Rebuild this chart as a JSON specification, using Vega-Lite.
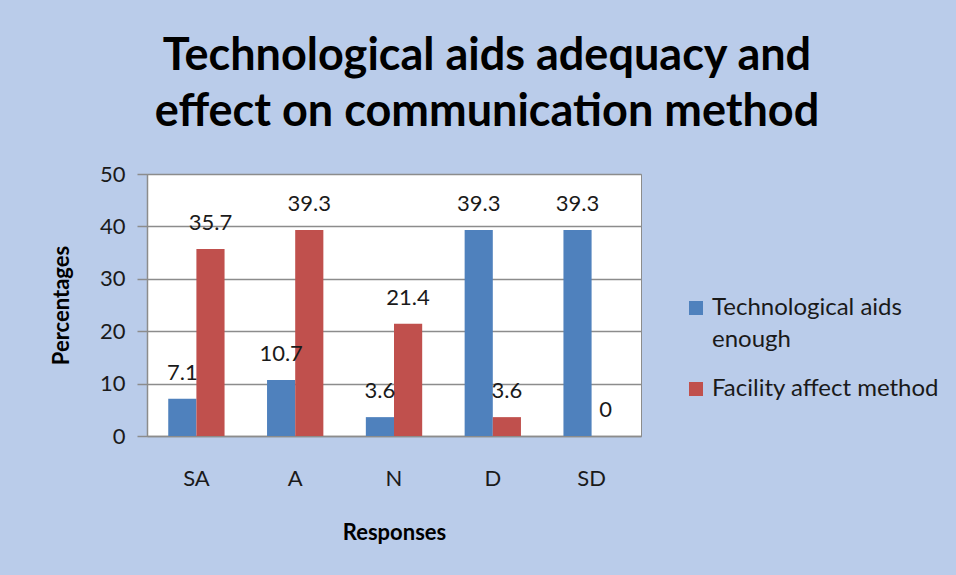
{
  "$schema": "https://vega.github.io/schema/vega-lite/v6.json",
  "autosize": {"type": "none"},
  "width": 494,
  "height": 262,
  "padding": {"left": 147, "top": 174, "right": 315, "bottom": 139},
  "background": "#BACCEA",
  "title": {
    "text": ["Technological aids adequacy and", "effect on communication method"],
    "font": "Lato",
    "fontSize": 45,
    "fontWeight": "bold",
    "color": "#000000",
    "anchor": "middle",
    "dx": 93,
    "lineHeight": 56,
    "offset": 28
  },
  "data": {
    "values": [
      {"Response": "SA", "Series": " Technological aids enough", "Value": 7.1},
      {"Response": "SA", "Series": "Facility affect method", "Value": 35.7},
      {"Response": "A", "Series": " Technological aids enough", "Value": 10.7},
      {"Response": "A", "Series": "Facility affect method", "Value": 39.3},
      {"Response": "N", "Series": " Technological aids enough", "Value": 3.6},
      {"Response": "N", "Series": "Facility affect method", "Value": 21.4},
      {"Response": "D", "Series": " Technological aids enough", "Value": 39.3},
      {"Response": "D", "Series": "Facility affect method", "Value": 3.6},
      {"Response": "SD", "Series": " Technological aids enough", "Value": 39.3},
      {"Response": "SD", "Series": "Facility affect method", "Value": 0}
    ]
  },
  "encoding": {
    "x": {
      "field": "Response",
      "type": "nominal",
      "sort": ["SA", "A", "N", "D", "SD"],
      "scale": {"paddingInner": 0.43, "paddingOuter": 0.215},
      "axis": {
        "title": "Responses",
        "titleFont": "Lato",
        "titleFontSize": 22,
        "titleFontWeight": "bold",
        "titleColor": "#000000",
        "titlePadding": 33,
        "labelAngle": 0,
        "labelFont": "Lato",
        "labelFontSize": 22,
        "labelColor": "#1a1a1a",
        "labelPadding": 32,
        "ticks": false,
        "domainColor": "#8c8c8c",
        "domainWidth": 1.5,
        "grid": false
      }
    },
    "xOffset": {"field": "Series", "type": "nominal", "sort": [" Technological aids enough", "Facility affect method"]},
    "y": {
      "field": "Value",
      "type": "quantitative",
      "scale": {"domain": [0, 50], "nice": false},
      "axis": {
        "title": "Percentages",
        "titleFont": "Lato",
        "titleFontSize": 22,
        "titleFontWeight": "bold",
        "titleColor": "#000000",
        "titlePadding": 26,
        "values": [0, 10, 20, 30, 40, 50],
        "labelFont": "Lato",
        "labelFontSize": 22,
        "labelColor": "#1a1a1a",
        "labelPadding": 12,
        "tickSize": 10,
        "tickColor": "#8c8c8c",
        "tickWidth": 1.5,
        "domainColor": "#8c8c8c",
        "domainWidth": 1.5,
        "gridColor": "#8c8c8c",
        "gridWidth": 1.5
      }
    }
  },
  "layer": [
    {
      "mark": {"type": "bar"},
      "encoding": {
        "color": {
          "field": "Series",
          "type": "nominal",
          "sort": [" Technological aids enough", "Facility affect method"],
          "scale": {"range": ["#4F81BD", "#C0504D"]},
          "legend": {
            "title": null,
            "orient": "none",
            "legendX": 537,
            "legendY": 122,
            "symbolType": "square",
            "symbolSize": 196,
            "symbolStrokeWidth": 0,
            "labelFont": "Lato",
            "labelFontSize": 24,
            "labelColor": "#1a1a1a",
            "labelLimit": 400,
            "labelOffset": 4,
            "labelBaseline": "middle",
            "rowPadding": 25,
            "labelExpr": "datum.label == ' Technological aids enough' ? [' Technological aids', 'enough'] : datum.label",
            "encode": {"labels": {"update": {"lineHeight": {"value": 32}}}}
          }
        }
      }
    },
    {
      "mark": {"type": "text", "baseline": "alphabetic", "dy": -19, "font": "Lato", "fontSize": 22, "color": "#1a1a1a"},
      "encoding": {
        "text": {"field": "Value", "type": "quantitative"}
      }
    }
  ],
  "config": {
    "view": {"fill": "#ffffff", "stroke": "#8c8c8c", "strokeWidth": 1}
  }
}
